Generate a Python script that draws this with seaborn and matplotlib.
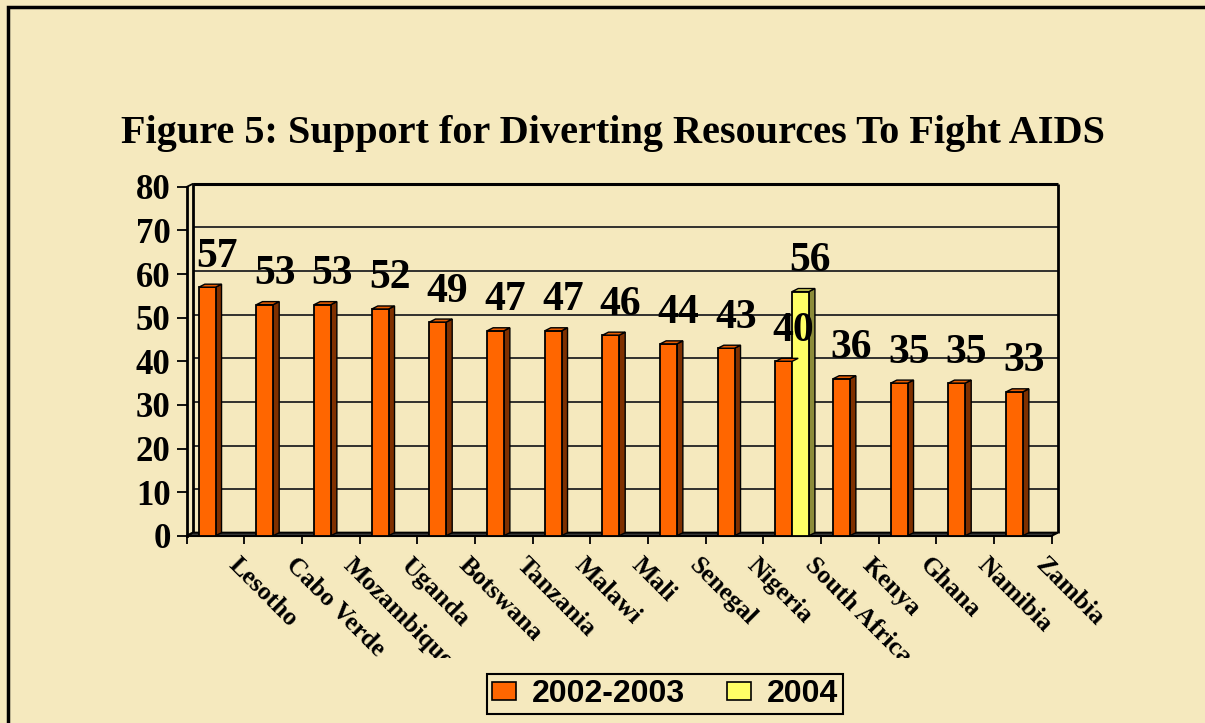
import matplotlib
matplotlib.use('Agg')
import matplotlib.pyplot as plt
import matplotlib.transforms as mtransforms
from matplotlib.patches import Polygon, Rectangle
import numpy as np
import pandas as pd
import seaborn as sns

# Data
countries = ['Lesotho', 'Cabo Verde', 'Mozambique', 'Uganda', 'Botswana', 'Tanzania', 'Malawi',
             'Mali', 'Senegal', 'Nigeria', 'South Africa', 'Kenya', 'Ghana', 'Namibia', 'Zambia']
support_0203 = [57, 53, 53, 52, 49, 47, 47, 46, 44, 43, 40, 36, 35, 35, 33]
countries_2004 = ['South Africa']
support_2004 = [56]
periods = ['2002-2003', '2004']
yticks = [0, 10, 20, 30, 40, 50, 60, 70, 80]

title = 'Figure 5: Support for Diverting Resources To Fight AIDS'

bg = '#F5E9BE'
front_colors = {'2002-2003': '#FF6600', '2004': '#FFFF66'}
side_colors = {'#ff6600': '#7F3000', '#ffff66': '#8C8C3A'}
top_colors = {'#ff6600': '#E85C00', '#ffff66': '#E0E05A'}

df = pd.concat([
    pd.DataFrame({'country': countries, 'value': support_0203, 'period': periods[0]}),
    pd.DataFrame({'country': countries_2004, 'value': support_2004, 'period': periods[1]}),
], ignore_index=True)

sns.set_theme(style='white')
plt.rcParams['font.family'] = ['Liberation Serif', 'DejaVu Serif']
plt.rcParams['font.weight'] = 'bold'
plt.rcParams['text.color'] = 'black'

W, H = 1205, 723
fig = plt.figure(figsize=(W / 100, H / 100), dpi=100, facecolor=bg)
ax = fig.add_axes([186.7 / W, 1 - 535.7 / H, 865 / W, 348.8 / H])
ax.set_facecolor('none')

sns.barplot(ax=ax, data=df, x='country', y='value', hue='period', order=countries,
            hue_order=periods, palette=front_colors, saturation=1, width=0.58, dodge=True,
            edgecolor='black', linewidth=1.3, legend=True, zorder=3)

ax.set_xlim(-0.5, len(countries) - 0.5)
ax.set_ylim(0, 80)

# 3d depth of the walls and bars, in pixels
depth = mtransforms.ScaledTranslation(6 / 100, 3 / 100, fig.dpi_scale_trans)
back = ax.transData + depth

# back wall grid + frame
x0, x1 = -0.5, len(countries) - 0.5
ax.hlines(yticks[1:], x0, x1, colors='#222222', linewidth=1.3, transform=back, zorder=1, clip_on=False)
ax.vlines([x0, x1], 0, 80, colors='black', linewidth=2, transform=back, zorder=1, clip_on=False)
ax.hlines([80], x0, x1, colors='black', linewidth=2.2, transform=back, zorder=1, clip_on=False)

# floor
dx = 6 / (865 / len(countries))
dy = 3 / (348.8 / 80)
floor = Polygon([[x0, 0], [x1, 0], [x1 + dx, dy], [x0 + dx, dy]], closed=True,
                facecolor='#555555', edgecolor='black', linewidth=1.5, zorder=2, clip_on=False)
ax.add_patch(floor)
ax.plot([x0, x0 + dx], [80, 80 + dy], color='black', lw=1.3, clip_on=False, zorder=2)

# bar sides and tops
for p in list(ax.patches):
    if not isinstance(p, Rectangle) or p is floor:
        continue
    h = p.get_height()
    if np.isnan(h) or h <= 0:
        continue
    bx0, bw = p.get_x(), p.get_width()
    bx1 = bx0 + bw
    fc = matplotlib.colors.to_hex(p.get_facecolor())
    side = Polygon([[bx1, 0], [bx1 + dx, dy], [bx1 + dx, h + dy], [bx1, h]], closed=True,
                   facecolor=side_colors.get(fc, '#555555'), edgecolor='black', linewidth=1.0,
                   zorder=2.9, clip_on=False)
    top = Polygon([[bx0, h], [bx0 + dx, h + dy], [bx1 + dx, h + dy], [bx1, h]], closed=True,
                  facecolor=top_colors.get(fc, fc), edgecolor='black', linewidth=1.0,
                  zorder=3.1, clip_on=False)
    ax.add_patch(side)
    ax.add_patch(top)
    ax.annotate(f'{int(h)}', xy=(bx0 + bw / 2, h), xytext=(7, 22), textcoords='offset points',
                ha='center', va='center', fontsize=30, fontweight='bold', color='black',
                annotation_clip=False, zorder=5)

# spines
for s in ['top', 'right']:
    ax.spines[s].set_visible(False)
ax.spines['left'].set_color('black')
ax.spines['left'].set_linewidth(2)
ax.spines['bottom'].set_color('black')
ax.spines['bottom'].set_linewidth(1.5)
ax.spines['left'].set_zorder(2)

# y axis
ax.set_yticks(yticks)
ax.set_yticklabels([str(v) for v in yticks])
ax.tick_params(axis='y', direction='out', length=7.5, width=1.3, color='black', pad=4,
               labelsize=25, labelcolor='black', left=True)

# x axis: boundary ticks as minor, labels as major with no tick mark
pos = np.arange(len(countries))
ax.set_xticks(pos + 0.42)
ax.set_xticks(np.arange(len(countries) + 1) - 0.5, minor=True)
ax.set_xticklabels(countries, rotation=-45, ha='left', va='top', rotation_mode='anchor')
ax.tick_params(axis='x', which='major', length=0, pad=13, labelsize=18.5, labelcolor='black')
ax.tick_params(axis='x', which='minor', direction='out', length=5.5, width=1.3, color='black', bottom=True)
ax.set_xlabel('')
ax.set_ylabel('')

# labels are cut off at the bottom like in the original
clip = mtransforms.TransformedBbox(mtransforms.Bbox([[0, (H - 658) / H], [1, 1]]), fig.transFigure)
for t in ax.get_xticklabels():
    t.set_clip_box(clip)
    t.set_clip_on(True)

# legend
handles, labels = ax.get_legend_handles_labels()
ax.get_legend().remove()
leg = fig.legend(handles, labels, loc='center', bbox_to_anchor=(665 / W, 1 - 694 / H), ncol=2,
                 frameon=True, fancybox=False, edgecolor='black', facecolor=bg, framealpha=1,
                 prop={'family': 'Liberation Sans', 'weight': 'bold', 'size': 23},
                 labelcolor='black', handlelength=0.75, handleheight=0.5, handletextpad=0.5,
                 columnspacing=1.3, borderpad=0.15, borderaxespad=0)
leg.get_frame().set_linewidth(1.5)
for hnd in leg.legend_handles:
    hnd.set_edgecolor('black')
    hnd.set_linewidth(1.2)

fig.text(613 / W, 1 - 133 / H, title, ha='center', va='center', fontsize=29, fontweight='bold',
         color='black')

# outer border of the chart area
fig.add_artist(Rectangle((8 / W, -0.05), 1.2, 1 - 7 / H + 0.05, transform=fig.transFigure,
                         facecolor='none', edgecolor='black', linewidth=2.5))

fig.savefig('out.png', dpi=100, facecolor=bg)
